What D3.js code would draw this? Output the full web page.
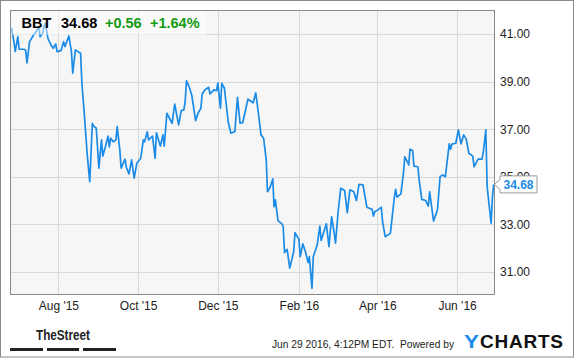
<!DOCTYPE html>
<html><head><meta charset="utf-8">
<script src="https://cdn.jsdelivr.net/npm/d3@7"></script>
<style>html,body{margin:0;padding:0;background:#fff;}svg{display:block;font-family:"Liberation Sans",Arial,sans-serif;}</style>
</head><body><svg id="c" width="575" height="358"></svg>
<script>
const dates = ["2015-06-26","2015-06-28","2015-06-29","2015-07-01","2015-07-02","2015-07-06","2015-07-07","2015-07-08","2015-07-10","2015-07-13","2015-07-15","2015-07-17","2015-07-18","2015-07-20","2015-07-21","2015-07-22","2015-07-24","2015-07-26","2015-07-28","2015-07-30","2015-07-31",
"2015-08-03","2015-08-05","2015-08-06","2015-08-09","2015-08-11","2015-08-12","2015-08-14","2015-08-16","2015-08-18","2015-08-19","2015-08-21","2015-08-23","2015-08-25","2015-08-27","2015-08-28","2015-08-30",
"2015-09-01","2015-09-03","2015-09-04","2015-09-06","2015-09-08","2015-09-09","2015-09-10","2015-09-12","2015-09-14","2015-09-15","2015-09-17","2015-09-18","2015-09-21","2015-09-22","2015-09-24","2015-09-26","2015-09-28","2015-09-30",
"2015-10-03","2015-10-05","2015-10-06","2015-10-08","2015-10-09","2015-10-12","2015-10-14","2015-10-15","2015-10-17","2015-10-18","2015-10-20","2015-10-21","2015-10-23","2015-10-25","2015-10-27","2015-10-29",
"2015-11-01","2015-11-03","2015-11-05","2015-11-06","2015-11-07","2015-11-09","2015-11-11","2015-11-14","2015-11-16","2015-11-18","2015-11-19","2015-11-21","2015-11-24","2015-11-25","2015-11-28","2015-11-30",
"2015-12-01","2015-12-03","2015-12-04","2015-12-06","2015-12-09","2015-12-11","2015-12-14","2015-12-16","2015-12-18","2015-12-20","2015-12-24","2015-12-28","2015-12-30",
"2016-01-01","2016-01-03","2016-01-05","2016-01-07","2016-01-08","2016-01-10","2016-01-12","2016-01-13","2016-01-14","2016-01-16","2016-01-19","2016-01-20","2016-01-21","2016-01-23","2016-01-25","2016-01-28","2016-01-29",
"2016-02-01","2016-02-02","2016-02-04","2016-02-06","2016-02-08","2016-02-09","2016-02-11","2016-02-12","2016-02-15","2016-02-17","2016-02-18","2016-02-22","2016-02-24","2016-02-26","2016-02-28","2016-02-29",
"2016-03-02","2016-03-04","2016-03-07","2016-03-09","2016-03-11","2016-03-14","2016-03-16","2016-03-18","2016-03-21","2016-03-24","2016-03-28","2016-03-29","2016-03-30",
"2016-04-02","2016-04-04","2016-04-05","2016-04-07","2016-04-11","2016-04-14","2016-04-15","2016-04-16","2016-04-19","2016-04-21","2016-04-22","2016-04-24","2016-04-25","2016-04-26","2016-04-28","2016-04-29",
"2016-05-02","2016-05-03","2016-05-05","2016-05-08","2016-05-10","2016-05-11","2016-05-14","2016-05-17","2016-05-19","2016-05-21","2016-05-23","2016-05-26","2016-05-27","2016-05-28","2016-05-31",
"2016-06-02","2016-06-04","2016-06-06","2016-06-08","2016-06-10","2016-06-13","2016-06-14","2016-06-17","2016-06-20","2016-06-21","2016-06-23","2016-06-24","2016-06-27","2016-06-28","2016-06-29"];
const prices = [41.28,40.68,40.26,40.89,40.36,40.36,40.30,39.79,40.68,40.96,41.10,41.31,40.89,41.03,41.31,41.45,40.82,40.58,40.40,40.58,40.26,
40.30,40.68,40.47,40.92,40.26,39.35,40.33,40.26,40.19,38.93,37.53,35.99,34.79,37.25,37.13,37.04,
35.36,36.55,35.87,36.26,36.71,36.26,36.62,36.47,36.55,37.11,36.13,35.36,35.74,35.40,35.12,35.71,34.94,35.57,
35.78,36.55,36.47,36.89,36.55,36.71,35.78,36.85,36.47,36.29,36.76,36.29,37.67,37.46,37.25,38.05,
37.18,37.78,37.81,38.16,39.03,38.79,38.44,37.36,37.69,37.88,38.48,38.65,38.76,38.48,38.65,38.62,
38.95,37.88,38.93,38.72,37.27,36.83,36.90,38.34,37.25,37.27,38.26,38.11,38.53,
37.67,36.76,36.62,35.71,34.37,34.56,34.91,33.74,34.03,33.16,33.02,32.90,31.81,31.95,31.16,31.85,32.65,
32.37,31.64,32.18,31.85,31.39,31.64,30.31,31.64,32.13,32.93,32.32,33.02,32.06,33.32,32.63,32.21,
33.53,34.52,34.42,33.49,34.45,34.37,34.00,34.68,34.66,33.72,33.63,33.35,33.53,
33.63,33.72,33.11,32.48,32.63,34.14,34.47,34.14,34.28,35.17,35.84,35.63,35.50,36.16,36.10,35.45,
35.42,34.87,34.05,34.00,33.77,34.37,33.14,33.61,35.00,35.08,35.00,36.38,36.16,36.37,36.41,
36.97,36.38,36.76,36.58,35.99,35.87,35.42,35.74,35.74,36.01,36.97,34.58,33.05,34.12,34.68];
const yTicks = [31, 33, 35, 37, 39, 41];
const xTicks = ["2015-08-01","2015-10-01","2015-12-01","2016-02-01","2016-04-01","2016-06-01"];
const xTickLabels = ["Aug '15","Oct '15","Dec '15","Feb '16","Apr '16","Jun '16"];
const ticker = "BBT", lastPrice = "34.68", change = "+0.56", changePct = "+1.64%";
const footerText = "Jun 29 2016, 4:12PM EDT.  Powered by";

const parse = d3.timeParse("%Y-%m-%d");
const data = dates.map((d, i) => ({date: parse(d), v: prices[i]}));
const svg = d3.select("#c");
const L = 10, T = 10, R = 495, B = 295;
const x = d3.scaleTime().domain([parse("2015-06-25"), parse("2016-06-30")]).range([L, R]);
const y = d3.scaleLinear().domain([30.03, 42.01]).range([B, T]);

// outer border
svg.append("rect").attr("x",0.5).attr("y",0.5).attr("width",573).attr("height",356.5)
  .attr("fill","#fff").attr("stroke","#8a8a8a");
// plot bg
svg.append("rect").attr("x",L).attr("y",T).attr("width",R-L).attr("height",B-T).attr("fill","#f6f6f6");
// gridlines
svg.append("g").selectAll("line").data(yTicks).join("line")
  .attr("x1",L).attr("x2",R).attr("y1",d=>Math.round(y(d))+0.5).attr("y2",d=>Math.round(y(d))+0.5)
  .attr("stroke","#d8d8d8");
svg.append("g").selectAll("line").data(xTicks).join("line")
  .attr("y1",T).attr("y2",B).attr("x1",d=>Math.round(x(parse(d)))+0.5).attr("x2",d=>Math.round(x(parse(d)))+0.5)
  .attr("stroke","#d8d8d8");

// line
const line = d3.line().x(d=>x(d.date)).y(d=>y(d.v));
svg.append("path").datum(data).attr("d",line).attr("fill","none")
  .attr("stroke","#1a8be6").attr("stroke-width",1.7).attr("stroke-linejoin","round");

// header overlay
svg.append("rect").attr("x",L+1).attr("y",T+1).attr("width",195).attr("height",24).attr("fill","#fff").attr("opacity",0.45);
const hdr = svg.append("g").attr("font-weight","bold").attr("font-size",14.5);
hdr.append("text").attr("x",21.5).attr("y",28).attr("fill","#000").text(ticker);
hdr.append("text").attr("x",61).attr("y",28).attr("fill","#000").text(lastPrice);
hdr.append("text").attr("x",105).attr("y",28).attr("fill","#129a12").text(change);
hdr.append("text").attr("x",150).attr("y",28).attr("fill","#129a12").text(changePct);

// plot border
svg.append("rect").attr("x",L+0.5).attr("y",T+0.5).attr("width",R-L-1).attr("height",B-T-1)
  .attr("fill","none").attr("stroke","#8a8a8a");

// y axis labels
const yAxis = d3.axisRight(y).tickValues(yTicks).tickFormat(d3.format(".2f")).tickSize(0).tickPadding(5);
const ga = svg.append("g").attr("transform",`translate(${R},0)`).call(yAxis);
ga.select(".domain").remove();
ga.selectAll("text").attr("font-size",12).attr("fill","#222").attr("font-family","Liberation Sans, Arial, sans-serif");

// x axis labels
const xAxis = d3.axisBottom(x).tickValues(xTicks.map(parse)).tickFormat((d,i)=>xTickLabels[i]).tickSize(0).tickPadding(6);
const gx = svg.append("g").attr("transform",`translate(0,${B})`).call(xAxis);
gx.select(".domain").remove();
gx.selectAll("text").attr("font-size",12).attr("fill","#222").attr("font-family","Liberation Sans, Arial, sans-serif");

// last price tag
const last = data[data.length-1];
const ly = y(last.v);
const tag = svg.append("g");
tag.append("path").attr("d",`M${R-0.5},${ly} L${R+5},${ly-5} L${R+5},${ly-8.5} L${R+42},${ly-8.5} L${R+42},${ly+8.5} L${R+5},${ly+8.5} L${R+5},${ly+5} Z`)
  .attr("fill","#fff").attr("stroke","#9a9a9a");
tag.append("text").attr("x",R+23.5).attr("y",ly+4.5).attr("text-anchor","middle").attr("font-weight","bold")
  .attr("font-size",12).attr("fill","#1a8be6").text(d3.format(".2f")(last.v));

// TheStreet logo
svg.append("text").attr("x",36).attr("y",340).attr("font-weight","bold").attr("font-size",15)
  .attr("textLength",54).attr("lengthAdjust","spacingAndGlyphs").attr("fill","#222").text("TheStreet");
[[10,43],[47,79],[83,116]].forEach(([a,b])=>svg.append("rect").attr("x",a).attr("y",348).attr("width",b-a).attr("height",3).attr("fill","#222"));

// footer
svg.append("text").attr("x",272).attr("y",348).attr("font-size",11).attr("fill","#222")
  .attr("textLength",182).attr("lengthAdjust","spacingAndGlyphs").attr("xml:space","preserve").text(footerText);
svg.append("text").attr("x",464).attr("y",348).attr("font-weight","bold").attr("font-size",19)
  .attr("textLength",15).attr("lengthAdjust","spacingAndGlyphs").attr("fill","#1a8be6").text("Y");
svg.append("text").attr("x",480).attr("y",348).attr("font-weight","bold").attr("font-size",19)
  .attr("textLength",83).attr("lengthAdjust","spacing").attr("fill","#111").text("CHARTS");
</script></body></html>
